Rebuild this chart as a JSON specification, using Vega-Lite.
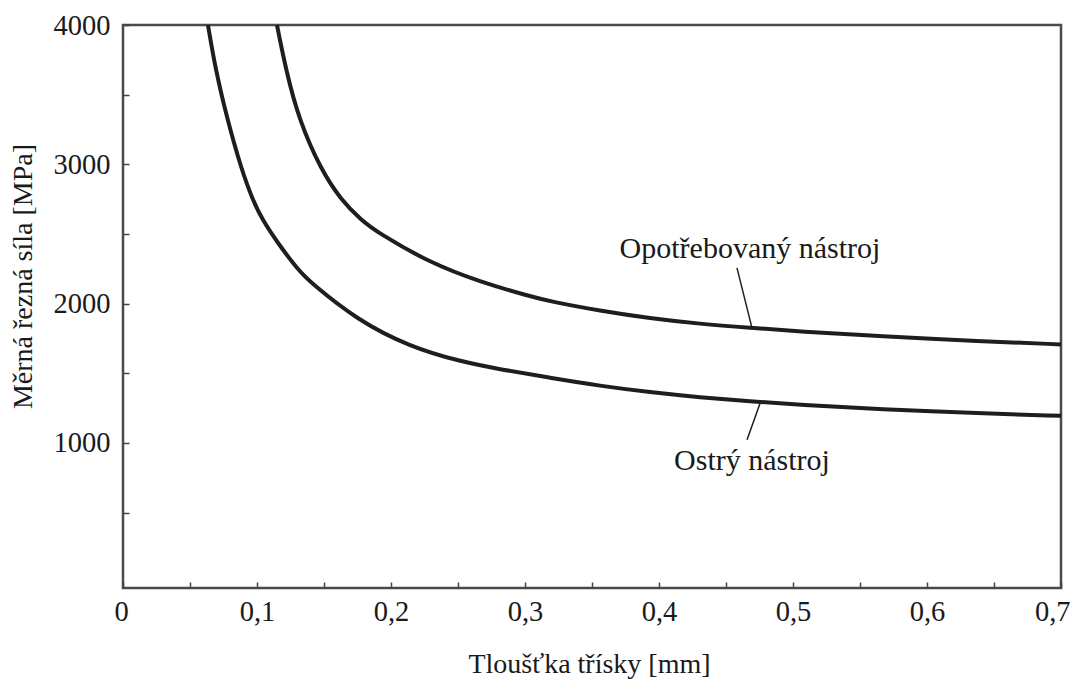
{
  "$schema": "https://vega.github.io/schema/vega-lite/v6.json",
  "autosize": "none",
  "padding": {"left": 123, "top": 25, "right": 13, "bottom": 93},
  "width": 938,
  "height": 563,
  "background": "white",
  "config": {
    "view": {"stroke": "#4a4a4a", "strokeWidth": 2.5},
    "font": "Liberation Serif",
    "axis": {
      "labelFont": "Liberation Serif",
      "titleFont": "Liberation Serif",
      "labelColor": "#1a1a1a",
      "titleColor": "#1a1a1a",
      "titleFontWeight": "normal",
      "grid": false,
      "domain": false,
      "tickColor": "#444444",
      "tickWidth": 1.5
    }
  },
  "datasets": {
    "curves": [
      {"series": "sharp", "h": 0.0634, "kc": 4000},
      {"series": "sharp", "h": 0.0691, "kc": 3678},
      {"series": "sharp", "h": 0.0779, "kc": 3319},
      {"series": "sharp", "h": 0.0885, "kc": 2960},
      {"series": "sharp", "h": 0.0968, "kc": 2745},
      {"series": "sharp", "h": 0.104, "kc": 2601},
      {"series": "sharp", "h": 0.1154, "kc": 2436},
      {"series": "sharp", "h": 0.1306, "kc": 2242},
      {"series": "sharp", "h": 0.1402, "kc": 2149},
      {"series": "sharp", "h": 0.1746, "kc": 1883},
      {"series": "sharp", "h": 0.2142, "kc": 1689},
      {"series": "sharp", "h": 0.2515, "kc": 1585},
      {"series": "sharp", "h": 0.2813, "kc": 1528},
      {"series": "sharp", "h": 0.3187, "kc": 1467},
      {"series": "sharp", "h": 0.356, "kc": 1409},
      {"series": "sharp", "h": 0.3933, "kc": 1363},
      {"series": "sharp", "h": 0.4306, "kc": 1327},
      {"series": "sharp", "h": 0.4679, "kc": 1298},
      {"series": "sharp", "h": 0.5052, "kc": 1273},
      {"series": "sharp", "h": 0.5649, "kc": 1241},
      {"series": "sharp", "h": 0.6396, "kc": 1212},
      {"series": "sharp", "h": 0.7, "kc": 1194},
      {"series": "worn", "h": 0.1149, "kc": 4000},
      {"series": "worn", "h": 0.1216, "kc": 3678},
      {"series": "worn", "h": 0.1313, "kc": 3319},
      {"series": "worn", "h": 0.1478, "kc": 2960},
      {"series": "worn", "h": 0.1627, "kc": 2745},
      {"series": "worn", "h": 0.1776, "kc": 2601},
      {"series": "worn", "h": 0.1903, "kc": 2508},
      {"series": "worn", "h": 0.2291, "kc": 2292},
      {"series": "worn", "h": 0.2664, "kc": 2156},
      {"series": "worn", "h": 0.3037, "kc": 2052},
      {"series": "worn", "h": 0.3187, "kc": 2016},
      {"series": "worn", "h": 0.356, "kc": 1948},
      {"series": "worn", "h": 0.3933, "kc": 1894},
      {"series": "worn", "h": 0.4306, "kc": 1854},
      {"series": "worn", "h": 0.4679, "kc": 1826},
      {"series": "worn", "h": 0.5052, "kc": 1800},
      {"series": "worn", "h": 0.5649, "kc": 1765},
      {"series": "worn", "h": 0.6396, "kc": 1729},
      {"series": "worn", "h": 0.7, "kc": 1707}
    ],
    "leaders": [
      {"h": 0.4582, "kc": 2256, "h2": 0.4694, "kc2": 1826},
      {"h": 0.4657, "kc": 1022, "h2": 0.4761, "kc2": 1302}
    ],
    "labels": [
      {"text": "Opotřebovaný nástroj", "h": 0.4679, "kc": 2328},
      {"text": "Ostrý nástroj", "h": 0.4694, "kc": 806}
    ]
  },
  "layer": [
    {
      "data": {"name": "curves"},
      "mark": {"type": "line", "color": "#1e1e1e", "strokeWidth": 4, "interpolate": "basis", "clip": true},
      "encoding": {
        "x": {
          "field": "h", "type": "quantitative",
          "scale": {"domain": [0, 0.7], "nice": false, "zero": false},
          "axis": {
            "title": "Tloušťka třísky [mm]",
            "values": [0, 0.05, 0.1, 0.15, 0.2, 0.25, 0.3, 0.35, 0.4, 0.45, 0.5, 0.55, 0.6, 0.65, 0.7],
            "labelExpr": "datum.value == 0 ? '0' : (round(datum.value * 20) % 2 == 1 ? '' : replace(format(datum.value, '.1f'), '.', ','))",
            "labelFontSize": 28.5,
            "labelPadding": 15,
            "tickSize": -6,
            "labelFlush": true,
            "labelFlushOffset": 9,
            "labelOverlap": false,
            "titleFontSize": 28,
            "titleX": 466,
            "titleY": 84,
            "titleAlign": "center",
            "titleBaseline": "alphabetic"
          }
        },
        "y": {
          "field": "kc", "type": "quantitative",
          "scale": {"domain": [-42, 4000], "nice": false, "zero": false},
          "axis": {
            "title": "Měrná řezná síla [MPa]",
            "values": [500, 1000, 1500, 2000, 2500, 3000, 3500, 4000],
            "labelExpr": "datum.value % 1000 == 0 ? format(datum.value, 'd') : ''",
            "labelFontSize": 28.5,
            "labelPadding": 19,
            "tickSize": -6,
            "labelFlush": false,
            "labelOverlap": false,
            "labelBaseline": "middle",
            "titleFontSize": 28,
            "titleX": -92,
            "titleY": 251,
            "titleAngle": -90,
            "titleAlign": "center",
            "titleBaseline": "alphabetic"
          }
        },
        "detail": {"field": "series"}
      }
    },
    {
      "data": {"name": "leaders"},
      "mark": {"type": "rule", "color": "#1e1e1e", "strokeWidth": 1.5},
      "encoding": {
        "x": {"field": "h", "type": "quantitative"},
        "y": {"field": "kc", "type": "quantitative"},
        "x2": {"field": "h2"},
        "y2": {"field": "kc2"}
      }
    },
    {
      "data": {"name": "labels"},
      "mark": {"type": "text", "font": "Liberation Serif", "fontSize": 30, "color": "#1a1a1a", "align": "center", "baseline": "alphabetic"},
      "encoding": {
        "x": {"field": "h", "type": "quantitative"},
        "y": {"field": "kc", "type": "quantitative"},
        "text": {"field": "text"}
      }
    }
  ]
}
